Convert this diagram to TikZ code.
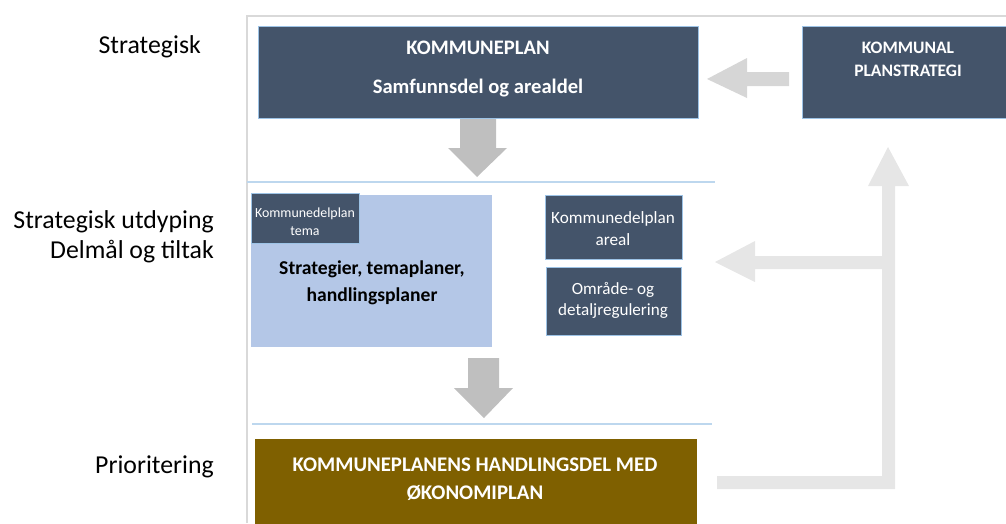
\documentclass[tikz,border=0pt]{standalone}
\usepackage{fontspec}
\setmainfont{Carlito}
\definecolor{boxdark}{HTML}{44546A}
\definecolor{boxedge}{HTML}{9DC3E6}
\definecolor{lightbox}{HTML}{B4C7E7}
\definecolor{brownbox}{HTML}{7F6000}
\definecolor{sepline}{HTML}{BDD7EE}
\definecolor{frameline}{HTML}{D9D9D9}
\definecolor{arrowdark}{HTML}{BFBFBF}
\definecolor{arrowmid}{HTML}{D6D6D6}
\definecolor{arrowlight}{HTML}{E6E6E6}
\tikzset{
  darkbox/.style={fill=boxdark, draw=boxedge, line width=0.6pt, anchor=north west, inner sep=0pt},
  lightrect/.style={fill=lightbox, draw=none, anchor=north west, inner sep=0pt},
  brownrect/.style={fill=brownbox, draw=none, anchor=north west, inner sep=0pt},
  wtext/.style={text=white, font=\bfseries, align=center, inner sep=0pt},
  wsmall/.style={text=white, align=center, inner sep=0pt},
  sidelabel/.style={text=black, align=right, anchor=east, inner sep=0pt, font=\fontsize{25.8}{30}\selectfont},
  sep/.style={draw=sepline, line width=1.2pt},
}
\begin{document}
\begin{tikzpicture}[x=1pt,y=-1pt]
\useasboundingbox (0,0) rectangle (1006,523);
% frame
\draw[frameline, line width=1.2pt] (247,523) -- (247,16) -- (1006,16);
% separator lines
\draw[sep] (247,182) -- (715,182);
\draw[sep] (252,424) -- (712,424);
% boxes
\node[darkbox, minimum width=440pt, minimum height=92pt] (kp) at (258,26) {};
\node[darkbox, minimum width=210pt, minimum height=92pt] (kps) at (802,26) {};
\node[lightrect, minimum width=241pt, minimum height=152pt] (strat) at (251,195) {};
\node[darkbox, minimum width=108pt, minimum height=50pt] (kdt) at (251,193) {};
\node[darkbox, minimum width=137pt, minimum height=64pt] (kda) at (545,195) {};
\node[darkbox, minimum width=135pt, minimum height=68pt] (odr) at (546,267) {};
\node[brownrect, minimum width=442pt, minimum height=90pt] (hd) at (255,439) {};
% texts
\node[wtext, font=\bfseries\fontsize{20.6}{24}\selectfont] (kpt1) at (478,48) {KOMMUNEPLAN};
\node[wtext, font=\bfseries\fontsize{20.6}{24}\selectfont] (kpt2) at (478,88) {Samfunnsdel og arealdel};
\node[wtext, font=\bfseries\fontsize{17.5}{23}\selectfont] (kpst) at (908,59) {KOMMUNAL\\PLANSTRATEGI};
\node[wsmall, font=\fontsize{13.9}{18}\selectfont] (kdtt) at (305,222) {Kommunedelplan\\tema};
\node[inner sep=0pt, align=center, font=\bfseries\fontsize{19.6}{27}\selectfont] (stratt) at (372,283) {Strategier, temaplaner,\\handlingsplaner};
\node[wsmall, font=\fontsize{17.2}{22}\selectfont] (kdat) at (613,229) {Kommunedelplan\\areal};
\node[wsmall, font=\fontsize{17.1}{21}\selectfont] (odrt) at (613,300) {Område- og\\detaljregulering};
\node[wtext, font=\bfseries\fontsize{20.8}{28}\selectfont] (hdt) at (475,479) {KOMMUNEPLANENS HANDLINGSDEL MED\\ØKONOMIPLAN};
% side labels
\node[sidelabel] (l1) at (201,47) {Strategisk};
\node[sidelabel, align=right] (l2) at (214,237) {Strategisk utdyping\\Delmål og tiltak};
\node[sidelabel] (l3) at (214,467) {Prioritering};
% arrows
\fill[arrowmid] (789,72) -- (747,72) -- (747,58) -- (707,79) -- (747,98) -- (747,86) -- (789,86) -- cycle;
\fill[arrowdark] (460,119) -- (496,119) -- (496,148) -- (507,148) -- (477,177) -- (448,148) -- (460,148) -- cycle;
\fill[arrowdark] (468,358) -- (499,358) -- (499,388) -- (513,388) -- (484,418) -- (454,388) -- (468,388) -- cycle;
\fill[arrowlight] (717,476) -- (882,476) -- (882,269) -- (755,269) -- (755,282) -- (715,262) -- (755,241) -- (755,256) -- (882,256) -- (882,186) -- (868,186) -- (888,147) -- (909,186) -- (895,186) -- (895,489) -- (717,489) -- cycle;
\end{tikzpicture}
\end{document}
